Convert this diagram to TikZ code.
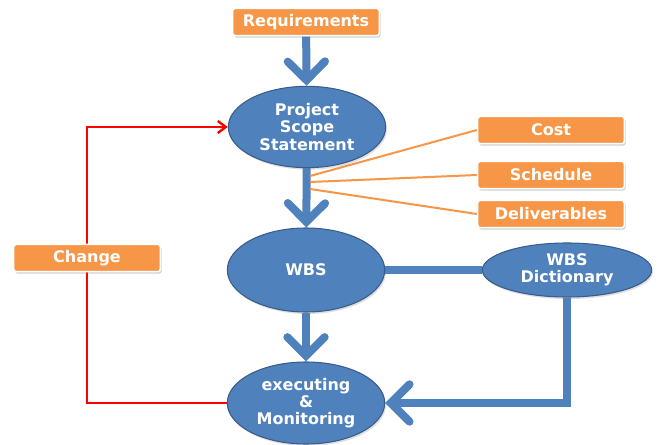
\documentclass[tikz,border=0pt]{standalone}
\usepackage{fontspec}
\setsansfont{DejaVu Sans}
\usepackage{tikz}
\usetikzlibrary{arrows.meta,positioning,shapes.geometric,shadows,backgrounds}
\definecolor{wbsblue}{RGB}{79,129,189}
\definecolor{wbsedge}{RGB}{56,93,138}
\definecolor{taborange}{RGB}{247,150,70}
\definecolor{loopred}{RGB}{255,0,0}
\tikzset{
  stage/.style={ellipse, draw=wbsedge, thick, fill=wbsblue, text=white, inner sep=0pt,
                align=center, font=\sffamily\bfseries\fontsize{12}{13}\selectfont,
                minimum width=118pt, minimum height=62pt,
                drop shadow={opacity=0.25, shadow xshift=1pt, shadow yshift=-1.5pt}},
  tag/.style={rectangle, rounded corners=2pt, draw=white, line width=1.2pt, fill=taborange,
              text=white, minimum width=110pt, minimum height=20.5pt, inner sep=0pt,
              font=\sffamily\bfseries\fontsize{12}{13}\selectfont,
              drop shadow={opacity=0.35, shadow xshift=1pt, shadow yshift=-1.5pt}},
  flow/.style={-{Straight Barb[length=14pt,width=28pt,line cap=round]}, line width=6pt, wbsblue},
  link/.style={line width=6pt, wbsblue},
  spoke/.style={line width=1.5pt, taborange},
  feedback/.style={-{Straight Barb[length=6pt,width=9pt]}, line width=1.8pt, loopred},
}

\begin{document}
\begin{tikzpicture}[x=0.75pt, y=-0.75pt]
\useasboundingbox (0,0) rectangle (659,445);
% main column
\node[tag] (req) at (306,22) {Requirements};
\node[stage, minimum height=61pt] (pss) at (307,127) {Project\\Scope\\Statement};
\node[stage, minimum height=63pt] (wbs) at (306,270) {WBS};
\node[stage, minimum height=61.5pt] (exec) at (306,403) {executing\\\&\\Monitoring};
\node[stage, minimum width=127pt, minimum height=40.5pt] (dict) at (567,270) {WBS\\Dictionary};
% scope outputs
\node[tag] (cost) at (551,130) {Cost};
\node[tag] (sched) at (551,175) {Schedule};
\node[tag] (deliv) at (551,214) {Deliverables};
\node[tag] (chg) at (87,258) {Change};
\coordinate (s1) at (310,176);
\coordinate (s2) at (310,182);
\coordinate (s3) at (310,189);

\begin{scope}[on background layer]
\fill[white] (0,0) rectangle (659,445);
\draw[flow] (req) -- (pss);
\draw[flow] (pss) -- (wbs);
\draw[flow] (wbs) -- (exec);
\draw[link] (wbs) -- (dict);
\draw[flow] (dict.south) |- (exec.east);
\draw[spoke] (s1) -- (cost.west);
\draw[spoke] (s2) -- (sched.west);
\draw[spoke] (s3) -- (deliv.west);
\draw[feedback] (exec.west) -| (chg.center) |- (pss.west);
\end{scope}
\end{tikzpicture}
\end{document}
